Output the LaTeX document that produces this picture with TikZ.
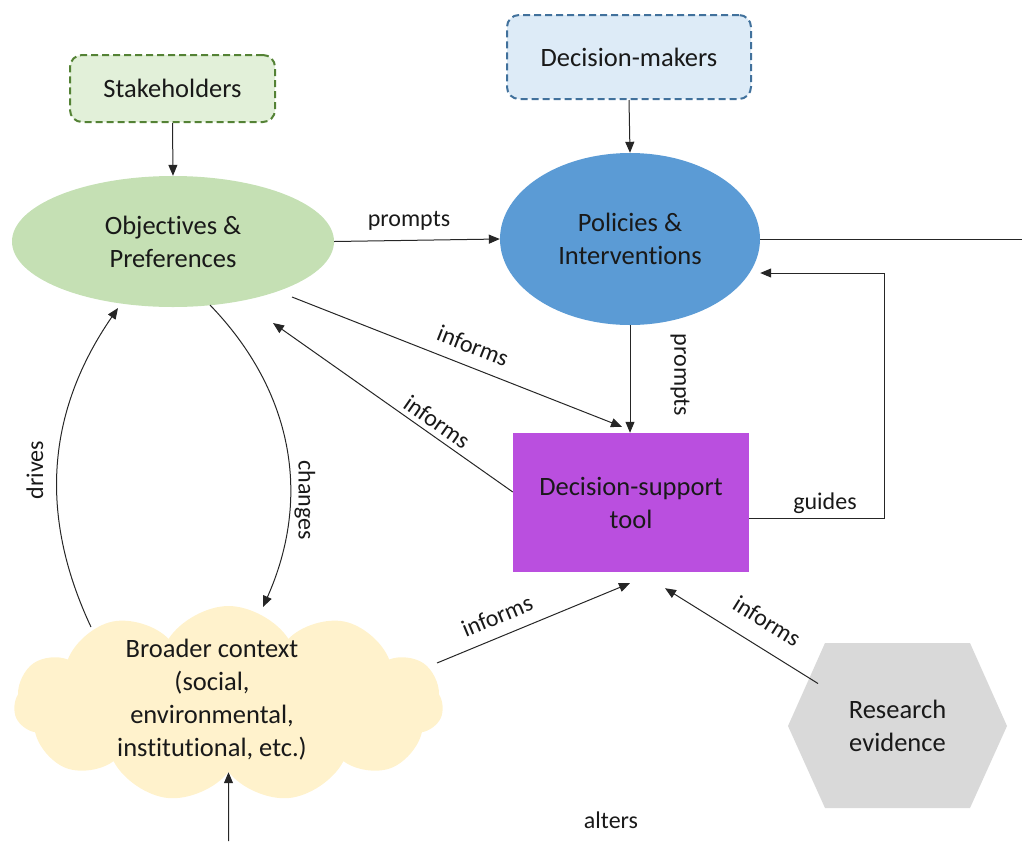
\documentclass[tikz,border=0pt]{standalone}
\usepackage{fontspec}
\setmainfont{Carlito}[Ligatures=NoCommon]
\usetikzlibrary{arrows.meta,shapes.geometric,shapes.symbols}

\definecolor{stakefill}{HTML}{E2F0D9}
\definecolor{stakeline}{HTML}{548235}
\definecolor{dmfill}{HTML}{DDEBF7}
\definecolor{dmline}{HTML}{41719C}
\definecolor{objfill}{HTML}{C5E0B4}
\definecolor{polfill}{HTML}{5B9BD5}
\definecolor{dstfill}{HTML}{BA4FDF}
\definecolor{ctxfill}{HTML}{FFF2CC}
\definecolor{resfill}{HTML}{D9D9D9}

\begin{document}
\begin{tikzpicture}[x=1pt,y=-1pt,
  base/.style={font=\fontsize{26.5}{33}\selectfont, align=center, text=black!90, inner sep=0pt},
  lbl/.style={font=\fontsize{24}{29}\selectfont, text=black!90, inner sep=0pt},
  actor/.style={base, rounded corners=12pt, line width=2pt, dash pattern=on 7pt off 4pt},
  link/.style={draw=black!85, line width=1pt, -{Triangle[length=11pt,width=9pt]}},
  plain/.style={draw=black!85, line width=1pt}
]
\useasboundingbox (0,0) rectangle (1022,841);

% actors
\node[actor, draw=stakeline, fill=stakefill, minimum width=205pt, minimum height=67pt] (stake) at (172.5,88.5) {Stakeholders};
\node[actor, draw=dmline, fill=dmfill, minimum width=244pt, minimum height=84pt] (dm) at (629,57) {Decision-makers};

% main elements
\node[base, ellipse, fill=objfill, minimum width=322pt, minimum height=131pt] (obj) at (173,241.5) {Objectives \&\\Preferences};
\node[base, ellipse, fill=polfill, minimum width=260pt, minimum height=172pt] (pol) at (630,239) {Policies \&\\Interventions};
\node[base, rectangle, fill=dstfill, minimum width=236pt, minimum height=139pt] (dst) at (631,502.5) {Decision-support\\tool};

% broader context cloud
\node[cloud, cloud puffs=11, cloud puff arc=115, cloud ignores aspect, fill=ctxfill,
      minimum width=429pt, minimum height=196pt, inner sep=0pt] (ctx) at (228.5,704) {};
\node[base] (ctxlbl) at (212,700) {Broader context\\(social,\\environmental,\\institutional, etc.)};

% research evidence hexagon
\fill[resfill] (825,643) -- (970,643) -- (1007,726) -- (970,808) -- (825,808) -- (788,726) -- cycle;
\node[base] (res) at (897.5,726) {Research\\evidence};

% free ends
\coordinate (outR) at (1022,239);
\coordinate (inB) at (228.5,841);

% connectors
\draw[link] (stake.south) -- (obj.north);
\draw[link] (dm.south) -- (pol.north);
\draw[link] (obj.east) -- (pol.west);
\draw[plain] (pol.east) -- (outR);
\draw[link] (pol.south) -- (pol.south |- dst.north);
\draw[link] ([xshift=119pt,yshift=-55.5pt]obj.center) -- ([xshift=-9pt,yshift=6pt]dst.north);
\draw[link] ([yshift=10.5pt]dst.west) -- ([xshift=100pt,yshift=-81.5pt]obj.center);
\draw[link] ([yshift=-15.5pt]dst.east) -- ++(135,0) |- ([yshift=-34pt]pol.east);
\draw[link] ([xshift=37pt,yshift=-63.5pt]obj.center)
   .. controls +(83,86) and +(49,-110) .. ([xshift=34.5pt,yshift=97pt]ctx.center);
\draw[link] ([xshift=-137.5pt,yshift=77pt]ctx.center)
   .. controls +(-53,-113) and +(-71,103) .. ([xshift=-55pt,yshift=-66.5pt]obj.center);
\draw[link] ([xshift=208.5pt,yshift=41pt]ctx.center) -- ([xshift=-1pt,yshift=-11pt]dst.south);
\draw[link] ([xshift=-79.5pt,yshift=42.5pt]res.center) -- ([xshift=34pt,yshift=-16pt]dst.south);
\draw[link] (inB) -- (ctx.south);

% connector labels
\node[lbl] (lprompts) at (409,221) {prompts};
\node[lbl, rotate=-90] (lprompts2) at (680,375) {prompts};
\node[lbl, rotate=-21.5] (linf1) at (473,346) {informs};
\node[lbl, rotate=-35] (linf2) at (437,422) {informs};
\node[lbl] (lguides) at (825,503) {guides};
\node[lbl, rotate=-90] (lchanges) at (305,500) {changes};
\node[lbl, rotate=90] (ldrives) at (35,470) {drives};
\node[lbl, rotate=22.5] (linf3) at (497,616) {informs};
\node[lbl, rotate=-32] (linf4) at (767,621) {informs};
\node[lbl] (lalters) at (611,820) {alters};
\end{tikzpicture}
\end{document}
